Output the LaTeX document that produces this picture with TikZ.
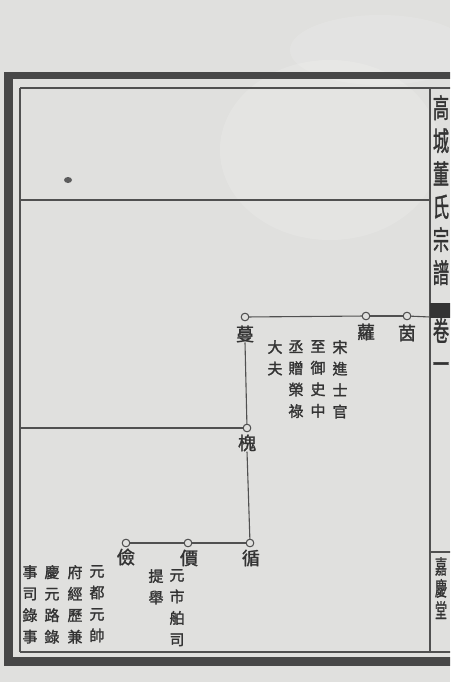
\documentclass[tikz,border=0pt]{standalone}
\usepackage{fontspec}
\newfontfamily\cjk[FakeBold=1.6]{Noto Sans CJK TC}
\definecolor{paper}{HTML}{E0E0DE}
\definecolor{inkc}{HTML}{333333}
\definecolor{linec}{HTML}{505050}
\newcommand{\narrowch}[1]{\scalebox{0.6}[1]{#1}}
\begin{document}
\begin{tikzpicture}[x=1pt,y=-1pt,
  conn/.style={draw=linec, line width=1.1pt},
  ring/.style={circle, draw=linec, line width=0.9pt, fill=paper, minimum size=7.5pt, inner sep=0pt},
  nm/.style={font=\cjk\fontsize{18}{18}\selectfont, text=inkc, inner sep=0pt},
  vcol/.style={font=\cjk\fontsize{15}{21.5}\selectfont, text=inkc, align=center, inner sep=0pt, anchor=north},
  spinetxt/.style={font=\cjk\fontsize{27}{33}\selectfont, text=inkc, align=center, inner sep=0pt, anchor=north},
  spinesm/.style={font=\cjk\fontsize{20}{22}\selectfont, text=inkc, align=center, inner sep=0pt, anchor=north}]
\useasboundingbox (0,0) rectangle (450,682);
\clip (0,0) rectangle (450,682);
% paper
\fill[paper] (0,0) rectangle (450,682);
\fill[white, opacity=0.15] (330,150) ellipse (110 and 90);
\fill[white, opacity=0.12] (380,50) ellipse (90 and 35);
% outer thick frame
\fill[inkc!90] (4,72) rectangle (460,79);
\fill[inkc!90] (4,72) rectangle (13,666);
\fill[inkc!90] (4,657) rectangle (460,666);
% inner thin frame
\draw[conn] (20,88) -- (460,88);
\draw[conn] (20,88) -- (20,652);
\draw[conn] (20,652) -- (460,652);
\draw[conn] (430,88) -- (430,652);
% ruled lines
\coordinate (r1l) at (20,200);
\coordinate (r1r) at (430,200);
\draw[conn] (r1l) -- (r1r);
% spine
\fill[inkc] (430,303) rectangle (460,318);
\draw[conn] (430,552) -- (460,552);
\node[spinetxt] (sp1) at (441,95) {\narrowch{高}\\\narrowch{城}\\\narrowch{董}\\\narrowch{氏}\\\narrowch{宗}\\\narrowch{譜}};
\node[spinetxt] (sp2) at (441,318) {\narrowch{卷}\\\narrowch{一}};
\node[spinesm] (sp3) at (441,557) {\narrowch{嘉}\\\narrowch{慶}\\\narrowch{堂}};
% genealogy nodes
\node[ring] (c1) at (407,316) {};
\node[nm] (n1) at (407,333) {茵};
\node[ring] (c2) at (366,316) {};
\node[nm] (n2) at (366,332) {蘿};
\node[ring] (c3) at (245,317) {};
\node[nm] (n3) at (245,334) {蔓};
\node[ring] (c4) at (247,428) {};
\node[nm] (n4) at (247,443) {槐};
\node[ring] (c5) at (250,543) {};
\node[nm] (n5) at (251,558) {循};
\node[ring] (c6) at (188,543) {};
\node[nm] (n6) at (189,558) {價};
\node[ring] (c7) at (126,543) {};
\node[nm] (n7) at (126,557) {儉};
\coordinate (topr) at (430,317);
\coordinate (midl) at (20,428);
% connectors
\draw[conn] (c3) -- (c2);
\draw[conn] (c2) -- (c1);
\draw[conn] (c1) -- (topr);
\draw[conn] (n3.south) -- (c4);
\draw[conn] (midl) -- (c4);
\draw[conn] (n4.south) -- (c5);
\draw[conn] (c7) -- (c6);
\draw[conn] (c6) -- (c5);
% redraw rings on top
\node[ring] at (c1) {};
\node[ring] at (c2) {};
\node[ring] at (c3) {};
\node[ring] at (c4) {};
\node[ring] at (c5) {};
\node[ring] at (c6) {};
\node[ring] at (c7) {};
% notes
\node[vcol] (t1) at (340,340) {宋\\進\\士\\官};
\node[vcol] (t2) at (318,340) {至\\御\\史\\中};
\node[vcol] (t3) at (296,340) {丞\\贈\\榮\\祿};
\node[vcol] (t4) at (275,340) {大\\夫};
\node[vcol] (u1) at (177,569) {元\\市\\舶\\司};
\node[vcol] (u2) at (156,569) {提\\舉};
\node[vcol] (v1) at (97,565) {元\\都\\元\\帥};
\node[vcol] (v2) at (75,565) {府\\經\\歷\\兼};
\node[vcol] (v3) at (52,565) {慶\\元\\路\\錄};
\node[vcol] (v4) at (30,565) {事\\司\\錄\\事};
% ink spot
\fill[inkc!80] (68,180) ellipse (4 and 3);
\end{tikzpicture}
\end{document}
